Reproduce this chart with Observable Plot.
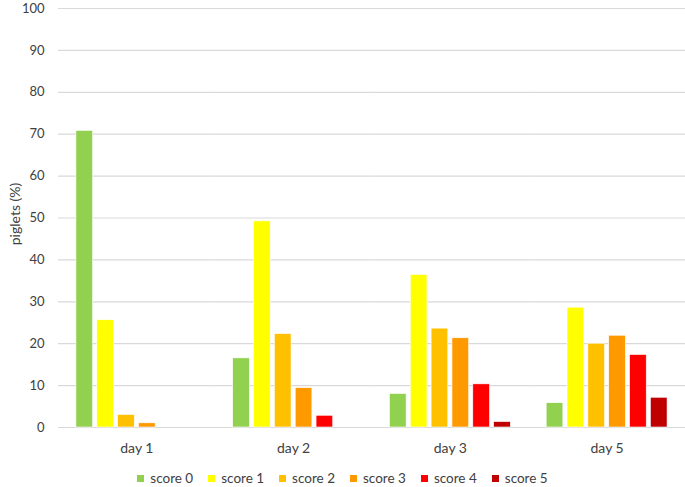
<!DOCTYPE html>
<html>
<head>
<meta charset="utf-8">
<script src="https://cdn.jsdelivr.net/npm/d3@7"></script>
<script src="https://cdn.jsdelivr.net/npm/@observablehq/plot@0.6"></script>
<style>
  html, body { margin: 0; padding: 0; background: #fff; }
  #chart { width: 685px; font-family: Lato, "Open Sans", sans-serif; }
  .legend { display: flex; justify-content: center; gap: 15px; margin-top: 10px; font-size: 13.5px; color: #404040; }
  .legend span.item { display: flex; align-items: center; }
  .legend i { display: inline-block; width: 7px; height: 7px; margin-right: 6px; }
</style>
</head>
<body>
<div id="chart"></div>
<script>
const days = ["day 1", "day 2", "day 3", "day 5"];
const scores = ["score 0", "score 1", "score 2", "score 3", "score 4", "score 5"];
const colors = ["#92D050", "#FFFF00", "#FFC000", "#FF9900", "#FF0000", "#C00000"];
const score0 = [70.8, 16.5, 8.0, 5.8];
const score1 = [25.6, 49.2, 36.4, 28.6];
const score2 = [3.0, 22.3, 23.6, 20.0];
const score3 = [1.0, 9.4, 21.3, 21.9];
const score4 = [0, 2.8, 10.3, 17.3];
const score5 = [0, 0, 1.3, 7.1];
const yTicks = [0, 10, 20, 30, 40, 50, 60, 70, 80, 90, 100];
const yLabel = "piglets (%)";

const series = [score0, score1, score2, score3, score4, score5];
const data = [];
days.forEach((d, i) => series.forEach((s, j) => data.push({day: d, score: scores[j], value: s[i]})));

const plot = Plot.plot({
  width: 685,
  height: 460,
  marginLeft: 58,
  marginRight: 0,
  marginTop: 8,
  marginBottom: 33,
  style: {fontFamily: "Lato, 'Open Sans', sans-serif", fontSize: "13px", color: "#404040", background: "#fff"},
  fx: {domain: days, padding: 0, round: false, label: null},
  x: {domain: scores, paddingInner: 0.2, paddingOuter: 0.86, round: false, axis: null},
  y: {domain: [0, 100], label: null},
  color: {domain: scores, range: colors},
  marks: [
    Plot.ruleY(yTicks, {stroke: "#d9d9d9", strokeWidth: 1.2}),
    Plot.barY(data, {fx: "day", x: "score", y: "value", fill: "score", stroke: "#fff", strokeWidth: 0.6}),
    Plot.axisY(yTicks, {tickSize: 0, tickPadding: 14, label: null, fill: "#404040", fontSize: 13}),
    Plot.text([yLabel], {fx: [days[0]], text: d => d, frameAnchor: "left", textAnchor: "middle", rotate: -90, dx: -43, dy: -4, fontSize: 14, fill: "#404040"}),
    Plot.axisFx({anchor: "bottom", tickSize: 0, tickPadding: 16, label: null, fontSize: 14, fill: "#404040"})
  ]
});
document.getElementById("chart").appendChild(plot);

const legend = document.createElement("div");
legend.className = "legend";
scores.forEach((s, i) => {
  const it = document.createElement("span");
  it.className = "item";
  const sw = document.createElement("i");
  sw.style.background = colors[i];
  it.appendChild(sw);
  it.appendChild(document.createTextNode(s));
  legend.appendChild(it);
});
document.getElementById("chart").appendChild(legend);
</script>
</body>
</html>
